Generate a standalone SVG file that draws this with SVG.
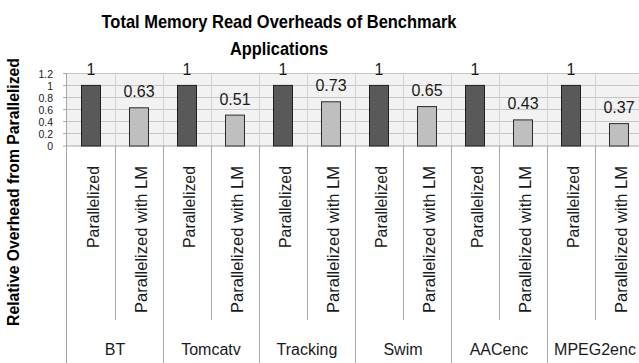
<svg xmlns="http://www.w3.org/2000/svg" width="639" height="363" viewBox="0 0 639 363">
  <style>
    text { font-family: "Liberation Sans", Arial, sans-serif; fill: #1a1a1a; }
    .title { font-size: 18.5px; font-weight: bold; fill: #000; text-anchor: middle; }
    .ytitle { font-size: 17px; font-weight: bold; fill: #000; text-anchor: middle; }
    .tick { font-size: 10.5px; text-anchor: end; }
    .val { font-size: 16px; text-anchor: middle; }
    .cat { font-size: 17px; text-anchor: end; }
    .grp { font-size: 16px; text-anchor: middle; }
    .grid { stroke: #c6c6c6; stroke-width: 1; }
    .vgrid { stroke: #d2d2d2; stroke-width: 1; }
    .axis { stroke: #a6a6a6; stroke-width: 1; fill: none; }
    .bar-p { fill: #595959; stroke: #1f1f1f; stroke-width: 1; }
    .bar-lm { fill: #bfbfbf; stroke: #2a2a2a; stroke-width: 1; }
  </style>

  <!-- chart title -->
  <g id="title">
    <text class="title" x="279" y="28" textLength="355" lengthAdjust="spacingAndGlyphs">Total Memory Read Overheads of Benchmark</text>
    <text class="title" x="279" y="55" textLength="98" lengthAdjust="spacingAndGlyphs">Applications</text>
  </g>

  <!-- value axis title -->
  <g id="y-title">
    <text class="ytitle" transform="translate(19,192) rotate(-90)" textLength="268" lengthAdjust="spacingAndGlyphs">Relative Overhead from Parallelized</text>
  </g>

  <!-- plot area with gridlines -->
  <g id="plot-area">
    <rect x="67" y="73.3" width="576" height="72.7" fill="#f2f2f2"/>
    <g class="grid">
      <line x1="67" y1="73.5" x2="639" y2="73.5"/>
      <line x1="67" y1="85.5" x2="639" y2="85.5"/>
      <line x1="67" y1="97.5" x2="639" y2="97.5"/>
      <line x1="67" y1="109.5" x2="639" y2="109.5"/>
      <line x1="67" y1="121.5" x2="639" y2="121.5"/>
      <line x1="67" y1="133.5" x2="639" y2="133.5"/>
    </g>
    <g class="vgrid">
      <line x1="115.5" y1="73.3" x2="115.5" y2="146"/>
      <line x1="163.5" y1="73.3" x2="163.5" y2="146"/>
      <line x1="211.5" y1="73.3" x2="211.5" y2="146"/>
      <line x1="259.5" y1="73.3" x2="259.5" y2="146"/>
      <line x1="307.5" y1="73.3" x2="307.5" y2="146"/>
      <line x1="355.5" y1="73.3" x2="355.5" y2="146"/>
      <line x1="403.5" y1="73.3" x2="403.5" y2="146"/>
      <line x1="451.5" y1="73.3" x2="451.5" y2="146"/>
      <line x1="499.5" y1="73.3" x2="499.5" y2="146"/>
      <line x1="547.5" y1="73.3" x2="547.5" y2="146"/>
      <line x1="595.5" y1="73.3" x2="595.5" y2="146"/>
    </g>
  </g>

  <!-- value axis: line, ticks, labels -->
  <g id="y-axis">
    <line class="axis" x1="66.5" y1="73.3" x2="66.5" y2="146"/>
    <g class="axis">
      <line x1="63" y1="73.5" x2="67" y2="73.5"/>
      <line x1="63" y1="85.5" x2="67" y2="85.5"/>
      <line x1="63" y1="97.5" x2="67" y2="97.5"/>
      <line x1="63" y1="109.5" x2="67" y2="109.5"/>
      <line x1="63" y1="121.5" x2="67" y2="121.5"/>
      <line x1="63" y1="133.5" x2="67" y2="133.5"/>
      <line x1="63" y1="146" x2="67" y2="146"/>
    </g>
    <text class="tick" x="53" y="77.5">1.2</text>
    <text class="tick" x="53" y="89.5">1</text>
    <text class="tick" x="53" y="101.6">0.8</text>
    <text class="tick" x="53" y="113.7">0.6</text>
    <text class="tick" x="53" y="125.9">0.4</text>
    <text class="tick" x="53" y="138">0.2</text>
    <text class="tick" x="53" y="150">0</text>
  </g>

  <!-- category axis: baseline and separators -->
  <g id="x-axis">
    <line class="axis" x1="67" y1="146" x2="639" y2="146"/>
    <g class="axis">
      <line x1="115.5" y1="146" x2="115.5" y2="320"/>
      <line x1="211.5" y1="146" x2="211.5" y2="320"/>
      <line x1="307.5" y1="146" x2="307.5" y2="320"/>
      <line x1="403.5" y1="146" x2="403.5" y2="320"/>
      <line x1="499.5" y1="146" x2="499.5" y2="320"/>
      <line x1="595.5" y1="146" x2="595.5" y2="320"/>
      <line x1="66.5" y1="146" x2="66.5" y2="363"/>
      <line x1="163.5" y1="146" x2="163.5" y2="363"/>
      <line x1="259.5" y1="146" x2="259.5" y2="363"/>
      <line x1="355.5" y1="146" x2="355.5" y2="363"/>
      <line x1="451.5" y1="146" x2="451.5" y2="363"/>
      <line x1="547.5" y1="146" x2="547.5" y2="363"/>
    </g>
  </g>

  <!-- BT -->
  <g id="group-bt">
    <rect class="bar-p" x="81.5" y="85.4" width="19" height="60.6"/>
    <text class="val" x="91" y="75">1</text>
    <rect class="bar-lm" x="129.5" y="107.8" width="19" height="38.2"/>
    <text class="val" x="139" y="97.3">0.63</text>
    <text class="cat" transform="translate(98.5,166) rotate(-90)" textLength="82" lengthAdjust="spacingAndGlyphs">Parallelized</text>
    <text class="cat" transform="translate(146.5,166) rotate(-90)" textLength="147" lengthAdjust="spacingAndGlyphs">Parallelized with LM</text>
    <text class="grp" x="115" y="355">BT</text>
  </g>

  <!-- Tomcatv -->
  <g id="group-tomcatv">
    <rect class="bar-p" x="177.5" y="85.4" width="19" height="60.6"/>
    <text class="val" x="187" y="75">1</text>
    <rect class="bar-lm" x="225.5" y="115.1" width="19" height="30.9"/>
    <text class="val" x="235" y="104.6">0.51</text>
    <text class="cat" transform="translate(194.5,166) rotate(-90)" textLength="82" lengthAdjust="spacingAndGlyphs">Parallelized</text>
    <text class="cat" transform="translate(242.5,166) rotate(-90)" textLength="147" lengthAdjust="spacingAndGlyphs">Parallelized with LM</text>
    <text class="grp" x="211" y="355">Tomcatv</text>
  </g>

  <!-- Tracking -->
  <g id="group-tracking">
    <rect class="bar-p" x="273.5" y="85.4" width="19" height="60.6"/>
    <text class="val" x="283" y="75">1</text>
    <rect class="bar-lm" x="321.5" y="101.8" width="19" height="44.2"/>
    <text class="val" x="331" y="91.3">0.73</text>
    <text class="cat" transform="translate(290.5,166) rotate(-90)" textLength="82" lengthAdjust="spacingAndGlyphs">Parallelized</text>
    <text class="cat" transform="translate(338.5,166) rotate(-90)" textLength="147" lengthAdjust="spacingAndGlyphs">Parallelized with LM</text>
    <text class="grp" x="307" y="355">Tracking</text>
  </g>

  <!-- Swim -->
  <g id="group-swim">
    <rect class="bar-p" x="369.5" y="85.4" width="19" height="60.6"/>
    <text class="val" x="379" y="75">1</text>
    <rect class="bar-lm" x="417.5" y="106.6" width="19" height="39.4"/>
    <text class="val" x="427" y="96.1">0.65</text>
    <text class="cat" transform="translate(386.5,166) rotate(-90)" textLength="82" lengthAdjust="spacingAndGlyphs">Parallelized</text>
    <text class="cat" transform="translate(434.5,166) rotate(-90)" textLength="147" lengthAdjust="spacingAndGlyphs">Parallelized with LM</text>
    <text class="grp" x="403" y="355">Swim</text>
  </g>

  <!-- AACenc -->
  <g id="group-aacenc">
    <rect class="bar-p" x="465.5" y="85.4" width="19" height="60.6"/>
    <text class="val" x="475" y="75">1</text>
    <rect class="bar-lm" x="513.5" y="119.9" width="19" height="26.1"/>
    <text class="val" x="523" y="109.4">0.43</text>
    <text class="cat" transform="translate(482.5,166) rotate(-90)" textLength="82" lengthAdjust="spacingAndGlyphs">Parallelized</text>
    <text class="cat" transform="translate(530.5,166) rotate(-90)" textLength="147" lengthAdjust="spacingAndGlyphs">Parallelized with LM</text>
    <text class="grp" x="499" y="355">AACenc</text>
  </g>

  <!-- MPEG2enc -->
  <g id="group-mpeg2enc">
    <rect class="bar-p" x="561.5" y="85.4" width="19" height="60.6"/>
    <text class="val" x="571" y="75">1</text>
    <rect class="bar-lm" x="609.5" y="123.6" width="19" height="22.4"/>
    <text class="val" x="619" y="113.1">0.37</text>
    <text class="cat" transform="translate(578.5,166) rotate(-90)" textLength="82" lengthAdjust="spacingAndGlyphs">Parallelized</text>
    <text class="cat" transform="translate(626.5,166) rotate(-90)" textLength="147" lengthAdjust="spacingAndGlyphs">Parallelized with LM</text>
    <text class="grp" x="595" y="355">MPEG2enc</text>
  </g>
</svg>
